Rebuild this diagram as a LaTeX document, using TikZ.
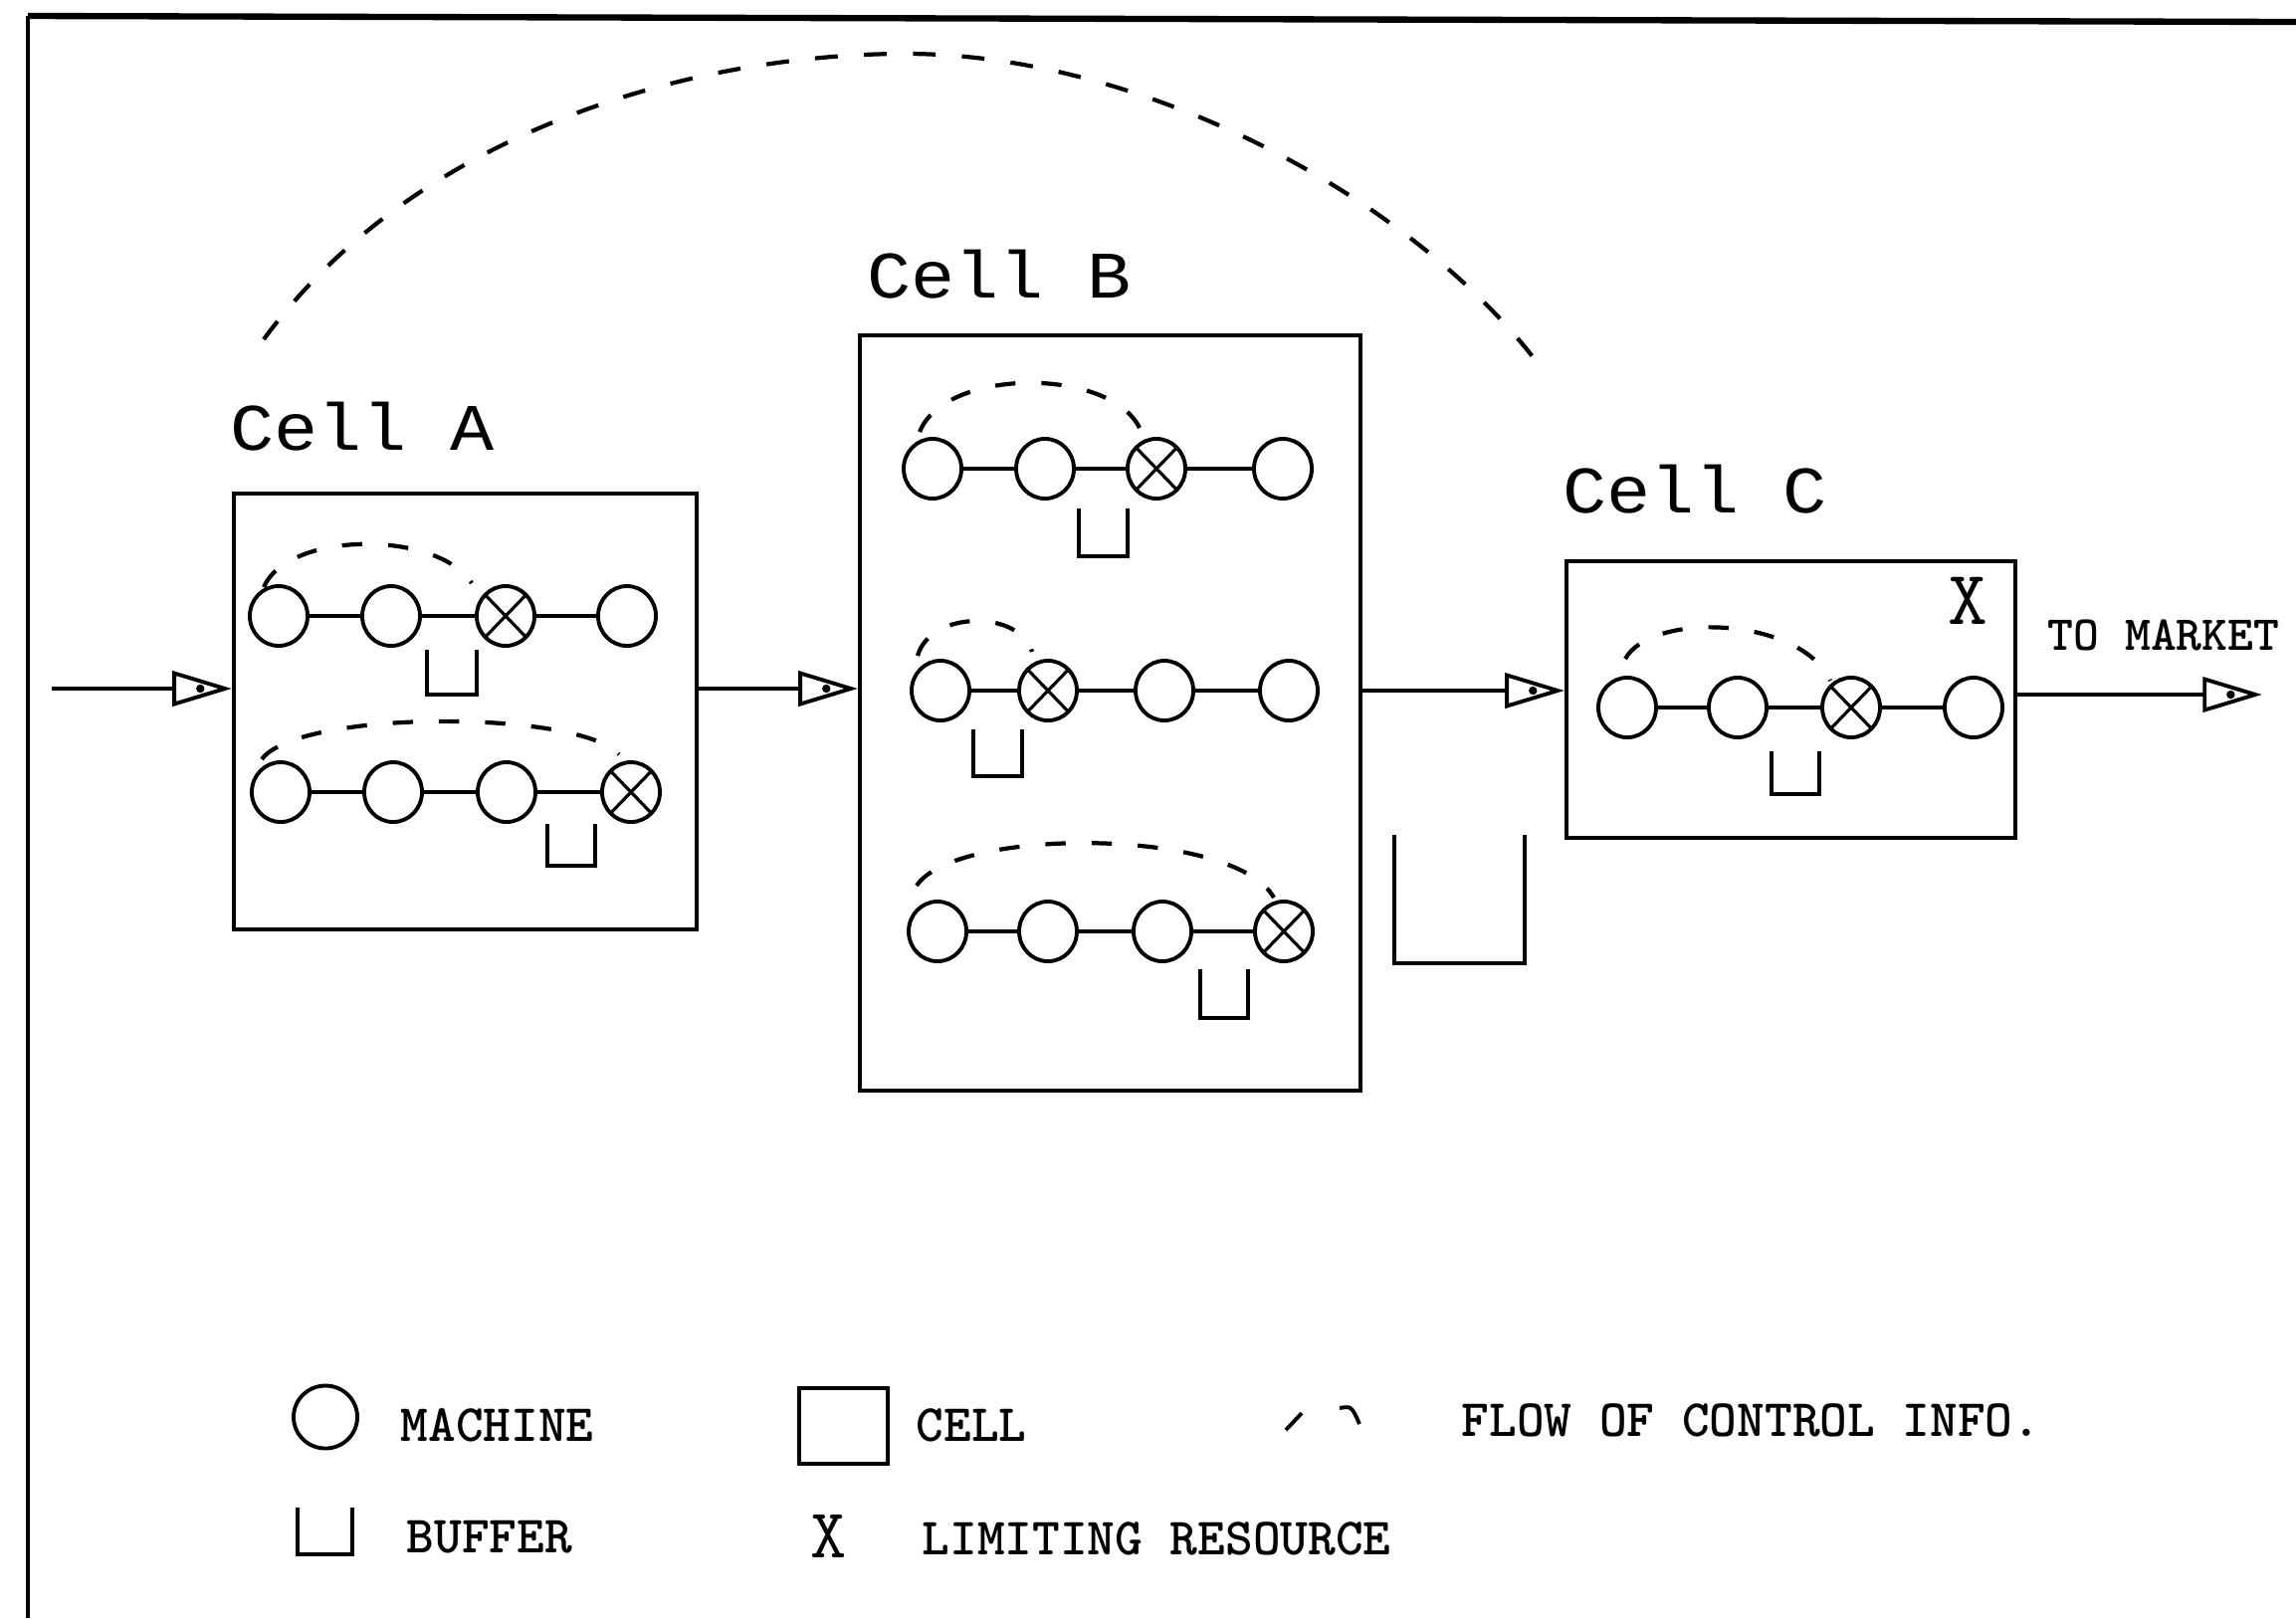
\documentclass[tikz,border=0pt]{standalone}
\usepackage{fontspec}
\newfontfamily\cellfont{Liberation Mono}
\usetikzlibrary{arrows.meta,decorations.markings,shapes.geometric,calc}
\begin{document}
\begin{tikzpicture}[x=0.01cm,y=-0.01cm,
  machine/.style={draw, ellipse, line width=1.1pt, inner sep=0pt, minimum width=0.58cm, minimum height=0.6cm},
  limit/.style={machine, path picture={\draw[line width=0.9pt] (path picture bounding box.south west) -- (path picture bounding box.north east) (path picture bounding box.north west) -- (path picture bounding box.south east);}},
  cellbox/.style={draw, line width=1.1pt, inner sep=0pt},
  link/.style={line width=1pt},
  buf/.style={line width=1.1pt},
  ctrl/.style={line width=1.2pt, dash pattern=on 5.8pt off 7.4pt},
  bigctrl/.style={line width=1.2pt, dash pattern=on 6.5pt off 7.5pt},
  flowarrow/.style={line width=1pt, -{Triangle[open,length=17pt,width=10pt,line width=1.1pt]},
     postaction={decorate}, decoration={markings, mark=at position -9pt with {\fill (0,0) circle (1.2pt);}}},
  celltitle/.style={font=\cellfont\fontsize{19}{21}\selectfont, inner sep=0pt, anchor=base west},
  legtext/.style={font=\ttfamily\bfseries\fontsize{15}{17}\selectfont, inner sep=0pt, anchor=base west},
  xmark/.style={font=\ttfamily\fontsize{22}{24}\selectfont, inner sep=0pt, anchor=base},
]
\useasboundingbox (0,0) rectangle (2307,1626);
% frame
\draw[line width=1.8pt] (28,16) -- (2307,22);
\draw[line width=1.1pt] (28,16) -- (28,1626);

% cells
\node[cellbox, minimum width=4.65cm, minimum height=4.38cm] (A) at (467.5,715) {};
\node[cellbox, minimum width=5.03cm, minimum height=7.59cm] (B) at (1115.5,716.5) {};
\node[cellbox, minimum width=4.51cm, minimum height=2.78cm] (C) at (1799.5,703) {};

\node[celltitle] (labA) at (231,452) {\scalebox{1.1}[1]{Cell A}};
\node[celltitle] (labB) at (871,299) {\scalebox{1.1}[1]{Cell B}};
\node[celltitle] (labC) at (1570,515) {\scalebox{1.1}[1]{Cell C}};

% Cell A row 1
\node[machine] (a11) at (280,619) {};
\node[machine] (a12) at (393,619) {};
\node[limit]   (a13) at (508,619) {};
\node[machine] (a14) at (630,619) {};
\draw[link] (a11) -- (a12) -- (a13) -- (a14);
\draw[buf] (429,653) -- (429,698) -- (479,698) -- (479,653);
\draw[ctrl] (265,590) .. controls (290,533) and (440,533) .. (474,586);
% Cell A row 2
\node[machine] (a21) at (282,796) {};
\node[machine] (a22) at (395,796) {};
\node[machine] (a23) at (509,796) {};
\node[limit]   (a24) at (634,796) {};
\draw[link] (a21) -- (a22) -- (a23) -- (a24);
\draw[buf] (550,828) -- (550,870) -- (598,870) -- (598,828);
\draw[ctrl] (263,763) .. controls (300,713) and (580,713) .. (622,758);

% Cell B row 1
\node[machine] (b11) at (937,471) {};
\node[machine] (b12) at (1050,471) {};
\node[limit]   (b13) at (1162,471) {};
\node[machine] (b14) at (1289,471) {};
\draw[link] (b11) -- (b12) -- (b13) -- (b14);
\draw[buf] (1084,511) -- (1084,559) -- (1133,559) -- (1133,511);
\draw[ctrl] (924,434) .. controls (950,369) and (1115,369) .. (1145,430);
% Cell B row 2
\node[machine] (b21) at (945,694) {};
\node[limit]   (b22) at (1053,694) {};
\node[machine] (b23) at (1170,694) {};
\node[machine] (b24) at (1295,694) {};
\draw[link] (b21) -- (b22) -- (b23) -- (b24);
\draw[buf] (978,733) -- (978,780) -- (1027,780) -- (1027,733);
\draw[ctrl] (922,659) .. controls (935,613) and (1025,613) .. (1037,655);
% Cell B row 3
\node[machine] (b31) at (942,936) {};
\node[machine] (b32) at (1053,936) {};
\node[machine] (b33) at (1168,936) {};
\node[limit]   (b34) at (1290,936) {};
\draw[link] (b31) -- (b32) -- (b33) -- (b34);
\draw[buf] (1206,974) -- (1206,1023) -- (1254,1023) -- (1254,974);
\draw[ctrl] (921,890) .. controls (960,831) and (1240,831) .. (1280,902);

% Cell C
\node[machine] (c1) at (1635,711) {};
\node[machine] (c2) at (1746,711) {};
\node[limit]   (c3) at (1860,711) {};
\node[machine] (c4) at (1983,711) {};
\draw[link] (c1) -- (c2) -- (c3) -- (c4);
\draw[buf] (1780,755) -- (1780,798) -- (1828,798) -- (1828,755);
\draw[ctrl] (1633,662) .. controls (1660,614) and (1810,620) .. (1839,684);
\node[xmark] (cx) at (1977,627) {X};

% big buffer between B and C
\draw[buf] (1401,839) -- (1401,968) -- (1532,968) -- (1532,839);

% big control arc
\draw[bigctrl] (265,341) .. controls (420,130) and (700,54) .. (910,54)
               .. controls (1150,54) and (1420,200) .. (1545,365);

% material flow
\coordinate (src) at (52,692);
\coordinate (lv) at (0,694);
\coordinate (mkt) at (2273,698);
\draw[flowarrow] (src) -- (src -| A.west);
\draw[flowarrow] (A.east |- src) -- (B.west |- src);
\draw[flowarrow] (B.east |- lv) -- (C.west |- lv);
\draw[flowarrow] (C.east |- mkt) -- (mkt);
\node[legtext, font=\ttfamily\bfseries\fontsize{14}{16}\selectfont] (tomkt) at (2057,653) {TO MARKET};

% legend
\node[machine, minimum width=0.64cm, minimum height=0.63cm] (lm) at (327,1424) {};
\node[legtext] (lmt) at (402,1448) {MACHINE};
\node[cellbox, minimum width=0.89cm, minimum height=0.76cm] (lc) at (847.5,1433) {};
\node[legtext] (lct) at (920,1448) {CELL};
\draw[line width=1.1pt] (1292,1437) -- (1308,1420);
\draw[line width=1.1pt] (1346,1415) .. controls (1358,1413) .. (1366,1431);
\node[legtext] (lft) at (1468,1443) {FLOW OF CONTROL INFO.};
\draw[buf] (299,1515) -- (299,1562) -- (354,1562) -- (354,1515);
\node[legtext] (lbt) at (408,1560) {BUFFER};
\node[xmark, font=\ttfamily\fontsize{20}{22}\selectfont] (lx) at (833,1565) {X};
\node[legtext] (lxt) at (926,1562) {LIMITING RESOURCE};
\end{tikzpicture}
\end{document}
